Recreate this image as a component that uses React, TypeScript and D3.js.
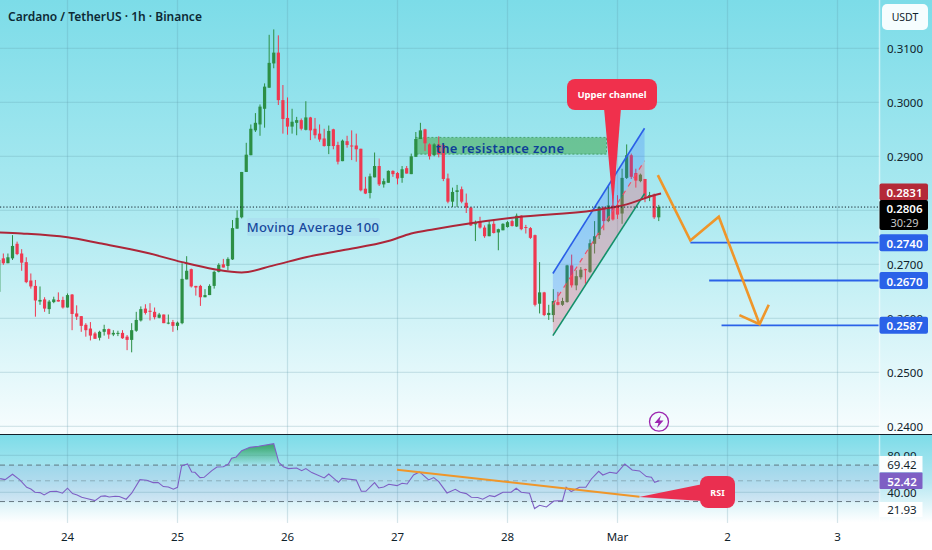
import React from 'react';
import * as d3 from 'd3';

// Prices are in ten-thousandths of USDT; each row is [open, high, low, close], one per hour.
const candlesFeb23 = [
  [2649,2708,2649,2708],[2711,2720,2699,2702],[2702,2720,2702,2713],[2711,2754,2708,2734],[2738,2742,2717,2719],
  [2720,2728,2688,2703],[2704,2713,2665,2667],[2670,2683,2655,2659],[2660,2671,2603,2633],[2631,2659,2625,2634],
  [2635,2639,2612,2618],[2617,2634,2608,2631],[2630,2640,2628,2635],[2634,2648,2631,2631],[2634,2640,2618,2620],
];
const candlesFeb24 = [
  [2620,2646,2620,2643],[2644,2645,2578,2608],[2609,2624,2597,2603],[2604,2604,2575,2586],[2588,2591,2566,2578],
  [2581,2593,2559,2568],[2572,2575,2562,2562],[2564,2577,2559,2575],[2575,2588,2568,2580],[2580,2581,2562,2570],
  [2570,2578,2567,2573],[2572,2577,2567,2573],[2573,2578,2562,2563],[2566,2569,2541,2560],[2560,2591,2537,2578],
  [2577,2612,2575,2597],[2596,2622,2594,2617],[2618,2626,2607,2610],[2614,2628,2596,2612],[2612,2620,2598,2602],
  [2601,2610,2600,2607],[2607,2607,2591,2591],[2591,2607,2589,2592],[2593,2597,2575,2586],
];
const candlesFeb25 = [
  [2586,2594,2578,2592],[2591,2702,2589,2673],[2672,2715,2672,2688],[2691,2692,2657,2659],[2660,2660,2642,2657],
  [2660,2662,2623,2639],[2639,2654,2639,2643],[2643,2663,2643,2660],[2660,2688,2655,2686],[2686,2702,2685,2699],
  [2700,2710,2694,2694],[2697,2713,2689,2710],[2709,2782,2708,2767],[2766,2800,2766,2786],[2787,2871,2785,2871],
  [2871,2925,2871,2903],[2902,2959,2902,2951],[2948,2980,2945,2962],[2959,2996,2938,2992],[2988,3035,2953,3029],
  [3027,3125,3027,3073],[3072,3135,3063,3092],[3092,3124,2995,3004],[3004,3032,2942,2969],
];
const candlesFeb26 = [
  [2971,3009,2940,2955],[2955,2988,2942,2964],[2962,2973,2939,2967],[2967,2970,2948,2951],[2949,3002,2948,2972],
  [2972,2973,2930,2948],[2951,2971,2933,2939],[2942,2959,2927,2931],[2933,2951,2918,2919],[2919,2957,2904,2947],
  [2950,2951,2913,2919],[2921,2927,2885,2890],[2891,2931,2891,2929],[2928,2938,2916,2921],[2920,2948,2893,2919],
  [2920,2942,2890,2913],[2914,2914,2835,2837],[2840,2862,2830,2831],[2832,2868,2822,2863],[2861,2907,2861,2882],
  [2882,2896,2845,2848],[2848,2859,2842,2854],[2851,2874,2851,2873],[2873,2874,2862,2867],
];
const candlesFeb27 = [
  [2869,2871,2848,2859],[2860,2882,2851,2876],[2878,2882,2868,2868],[2867,2905,2867,2900],[2899,2945,2899,2932],
  [2932,2962,2932,2948],[2950,2951,2910,2924],[2922,2924,2894,2900],[2902,2924,2900,2922],[2922,2937,2898,2904],
  [2921,2922,2854,2858],[2859,2868,2813,2816],[2816,2842,2806,2834],[2834,2847,2806,2837],[2839,2844,2813,2816],
  [2814,2831,2795,2805],[2805,2806,2771,2772],[2774,2781,2743,2776],[2780,2788,2766,2768],[2768,2772,2749,2752],
  [2752,2780,2752,2774],[2775,2783,2757,2758],[2759,2766,2726,2765],[2763,2776,2763,2775],
];
const candlesFeb28 = [
  [2769,2780,2768,2778],[2780,2783,2770,2771],[2770,2794,2769,2790],[2790,2791,2763,2765],[2769,2773,2757,2768],
  [2767,2769,2747,2749],[2754,2755,2622,2625],[2627,2704,2609,2648],[2648,2649,2604,2606],[2606,2625,2597,2610],
  [2606,2654,2593,2632],[2630,2649,2624,2625],[2625,2638,2623,2632],[2630,2699,2629,2698],[2698,2718,2657,2661],
  [2661,2689,2652,2678],[2676,2695,2672,2690],[2691,2692,2664,2689],[2686,2746,2684,2739],[2738,2780,2720,2752],
  [2754,2807,2747,2806],[2806,2807,2763,2780],[2780,2846,2778,2809],[2809,2825,2781,2783],
];
const candlesMar1 = [
  [2810,2828,2784,2792],[2794,2877,2775,2860],[2860,2922,2858,2902],[2902,2905,2858,2862],[2869,2877,2842,2855],
  [2854,2868,2852,2866],[2858,2858,2815,2825],[2826,2834,2817,2828],[2829,2831,2784,2787],[2787,2810,2780,2806],
];
const firstCandleHour = -15;

// Hours since 24 Feb 00:00 and price of the 100-period moving average.
const maHours = [-15,-10,0,7,17,25,32,38,45,52,60,70,75,80,88,98,115,122,128,129.5];
const maPrices = [2759,2757,2750,2739,2722,2704,2691,2685,2698,2713,2726,2743,2757,2765,2776,2787,2800,2811,2828,2831];

// RSI pane line.
const rsiHours = [
  -14.7,-13.6,-12,-10.4,-8.9,-8,-7.1,-6,-5.1,-3.8,-2.4,-1.1,0,1.1,2.1,3.1,4.2,6,7.3,8.2,9.1,10.4,11.3,12.8,14,15.8,17.3,18.7,19.8,20.9,22,23.1,24,24.9,26.2,27.1,27.8,28.9,29.8,31.5,32.6,34,35.1,35.8,36.8,38,39.8,41.7,45,46.1,47.1,48.2,50,51.1,52,53.3,56,57,59.1,59.9,63,64.1,65.1,67,67.9,69,70.1,71.9,73,74.1,75.5,76.8,78.8,79.9,81,82.8,84.6,85.7,87,88.1,89.5,90.6,92.1,93.2,95,96.8,97.9,99,100.8,101.9,103,104.5,106.1,108,108.8,109.9,111.7,113.1,114.3,115.9,116.8,118.3,119.8,121.6,123.2,124.8,126.3,127.4,128.1,129.1,
];
const rsiValues = [
  54.8,53.7,59.5,53.4,45.4,43.6,40,39.7,37.2,40.8,41.1,39,44.4,38.6,37.2,34.6,33.2,31,35.7,36.1,35,35.7,35.4,32.5,39,53.7,53,50.5,50.5,46.2,45.8,43.3,45.4,68.5,70.6,62,61.6,55.9,56.2,63.4,67.4,67.7,70.6,76.8,78.2,85,88.6,89.7,92.6,72.4,67.7,65.6,66.3,63.4,65.6,61.3,55.5,59.8,50.8,55.1,53.4,41.1,41.1,50.5,44.7,45.8,48.7,47.2,49.8,49,58.7,62,53.4,55.9,51.5,39.3,43.3,40,38.6,34.6,34.3,32.5,36.4,35.4,40,40,44.4,40,39,22.4,26,24.2,30.6,31,45.4,40.8,45.4,45.4,54.4,62.7,58.7,61.6,60.5,70.6,64.1,63.1,57,56.2,50.8,52.6,
];

const dayTicks = [0,24,48,72,96,120,144,168];
const dayLabels = ['24','25','26','27','28','Mar','2','3'];
const gridPrices = [3100,3000,2900,2800,2700,2600,2500,2400];
const labelledPrices = [3100,3000,2900,2700,2600,2500,2400];
const rsiLevels = [69.42,52.42,30];
const rsiTicks = [80,40];

const zoneHours = [75.9,117.6];
const zonePrices = [2935,2904];
const channelHours = [105.9,125.9];
const channelUpper = [2683,2952];
const channelLower = [2568,2831];
const zigzagHours = [128.8,135.9,142.1,151];
const zigzagPrices = [2865,2744,2788,2589];
const arrowHours = [146.6,151,153];
const arrowPrices = [2606,2589,2625];
const targetPrices = [2740,2670,2587];
const targetStartHours = [135.9,140,142.7];
const rsiTrendHours = [71.9,124.8];
const rsiTrendValues = [64.4,35.2];

const W = 932, H = 550, PLOT_R = 879.5;
const FONT = '"Noto Sans", sans-serif';
const GREEN = '#2c8f45', RED = '#ef3850', BLUE = '#2a62e8', ORANGE = '#ef962a', PURPLE = '#7e5fc4';

const x = d3.scaleLinear().domain([0, 24]).range([67.5, 177.5]);
const y = d3.scaleLinear().domain([3100, 2400]).range([48.3, 426.3]);
const r = d3.scaleLinear().domain([80, 40]).range([455.3, 492.3]);

const candles = [candlesFeb23, candlesFeb24, candlesFeb25, candlesFeb26, candlesFeb27, candlesFeb28, candlesMar1].flat();
const fmtPrice = (p: number) => (p / 10000).toFixed(4);

const maLine = d3.line<number>().x((_, i) => x(maHours[i])).y((d) => y(d)).curve(d3.curveMonotoneX)(maPrices) as string;
const rsiLine = d3.line<number>().x((_, i) => x(rsiHours[i])).y((d) => r(d))(rsiValues) as string;
const rsiArea = d3.area<number>().x((_, i) => x(rsiHours[i])).y0(r(69.42)).y1((d) => r(d))(rsiValues) as string;
const pts = (hs: number[], ps: number[], sy: (v: number) => number) =>
  hs.map((h, i) => `${x(h)},${sy(ps[i])}`).join(' ');

function PriceTag({ price, color, text = 'white' }: { price: number; color: string; text?: string }) {
  const cy = y(price);
  return (
    <g>
      <rect x={879.5} y={cy - 8.5} width={48.5} height={17} rx={2} fill={color} />
      <text x={904.5} y={cy + 0.5} textAnchor="middle" dominantBaseline="central" fontSize={11.5} fontWeight={600} fontFamily={FONT} fill={text}>{fmtPrice(price)}</text>
    </g>
  );
}

export default function App() {
  const midStart = (channelUpper[0] + channelLower[0]) / 2;
  const midEnd = (channelUpper[1] + channelLower[1]) / 2;
  return (
    <svg width={W} height={H} viewBox={`0 0 ${W} ${H}`} style={{ position: 'absolute', left: 0, top: 0, display: 'block' }}>
      <defs>
        <linearGradient id="bgMain" x1="0" x2="0" y1="0" y2="1">
          <stop offset="0" stopColor="#7cdce8" />
          <stop offset="0.5" stopColor="#aeeaf1" />
          <stop offset="1" stopColor="#f8fdfe" />
        </linearGradient>
        <linearGradient id="bgRsi" x1="0" x2="0" y1="0" y2="1">
          <stop offset="0" stopColor="#7cdce8" />
          <stop offset="0.55" stopColor="#b8e8f2" />
          <stop offset="1" stopColor="#ffffff" />
        </linearGradient>
        <linearGradient id="obFill" gradientUnits="userSpaceOnUse" x1="0" x2="0" y1={r(90)} y2={r(69.42)}>
          <stop offset="0" stopColor="#2e9e56" stopOpacity="0.8" />
          <stop offset="1" stopColor="#2e9e56" stopOpacity="0" />
        </linearGradient>
        <clipPath id="plotClip"><rect x={0} y={0} width={PLOT_R} height={434} /></clipPath>
        <clipPath id="obClip"><rect x={0} y={r(95)} width={PLOT_R} height={r(69.42) - r(95)} /></clipPath>
      </defs>

      <rect x={0} y={0} width={W} height={H} fill="#ffffff" />
      <rect x={0} y={0} width={W} height={434} fill="url(#bgMain)" />
      <rect x={0} y={434.5} width={W} height={88} fill="url(#bgRsi)" />

      {/* Grid */}
      {dayTicks.map((t) => (
        <g key={t} stroke="#5c98a6" strokeOpacity={0.24} strokeWidth={1.2}>
          <line x1={x(t)} x2={x(t)} y1={0} y2={434} />
          <line x1={x(t)} x2={x(t)} y1={435} y2={523} />
        </g>
      ))}
      {gridPrices.map((p) => (
        <line key={p} x1={0} x2={PLOT_R} y1={y(p)} y2={y(p)} stroke="#5c98a6" strokeOpacity={0.28} />
      ))}
      <line x1={PLOT_R} x2={PLOT_R} y1={0} y2={523} stroke="#ffffff" strokeOpacity={0.55} strokeWidth={1.5} />

      {/* Price pane */}
      <g clipPath="url(#plotClip)">
        <polygon points={pts([...zoneHours, ...zoneHours.slice().reverse()], [zonePrices[0], zonePrices[0], zonePrices[1], zonePrices[1]], y)} fill="#4caf5f" fillOpacity={0.62} stroke="#2f8f50" strokeOpacity={0.7} strokeDasharray="2 2" />

        {candles.map((c, i) => {
          const [o, h, l, cl] = c;
          const hour = firstCandleHour + i;
          const col = cl >= o ? GREEN : RED;
          const top = y(Math.max(o, cl));
          const bottom = y(Math.min(o, cl));
          return (
            <g key={i}>
              <line x1={x(hour)} x2={x(hour)} y1={y(h)} y2={y(l)} stroke={col} strokeWidth={1} />
              <rect x={x(hour) - 1.6} y={top} width={3.2} height={Math.max(bottom - top, 1)} fill={col} />
            </g>
          );
        })}

        {/* Channel */}
        <polygon points={`${x(channelHours[0])},${y(channelUpper[0])} ${x(channelHours[1])},${y(channelUpper[1])} ${x(channelHours[1])},${y(midEnd)} ${x(channelHours[0])},${y(midStart)}`} fill="#2962ff" fillOpacity={0.22} />
        <polygon points={`${x(channelHours[0])},${y(midStart)} ${x(channelHours[1])},${y(midEnd)} ${x(channelHours[1])},${y(channelLower[1])} ${x(channelHours[0])},${y(channelLower[0])}`} fill="#f5506a" fillOpacity={0.3} />
        <line x1={x(channelHours[0])} x2={x(channelHours[1])} y1={y(midStart)} y2={y(midEnd)} stroke="#f0506a" strokeWidth={1.2} strokeDasharray="5 5" />
        <line x1={x(channelHours[0])} x2={x(channelHours[1])} y1={y(channelUpper[0])} y2={y(channelUpper[1])} stroke="#2a5fe8" strokeWidth={1.6} />
        <line x1={x(channelHours[0])} x2={x(channelHours[1])} y1={y(channelLower[0])} y2={y(channelLower[1])} stroke="#13906a" strokeWidth={1.6} />

        {/* MA */}
        <path d={maLine} fill="none" stroke="#ad2639" strokeWidth={2} />

        {/* Last price */}
        <line x1={0} x2={PLOT_R} y1={y(2806)} y2={y(2806)} stroke="#10202a" strokeWidth={1} strokeDasharray="1.2 2" />

        {/* Targets */}
        {targetPrices.map((p, i) => (
          <line key={p} x1={x(targetStartHours[i])} x2={PLOT_R - 1} y1={y(p)} y2={y(p)} stroke={BLUE} strokeWidth={1.8} />
        ))}

        {/* Path */}
        <polyline points={pts(zigzagHours, zigzagPrices, y)} fill="none" stroke={ORANGE} strokeWidth={2.6} strokeLinejoin="miter" />
        <polyline points={pts(arrowHours, arrowPrices, y)} fill="none" stroke={ORANGE} strokeWidth={2.6} />

        {/* Labels */}
        <rect x={247} y={218} width={133} height={18} rx={2} fill="#a9d8ee" fillOpacity={0.55} />
        <text x={313} y={227} textAnchor="middle" dominantBaseline="central" fontSize={13} fontWeight={500} letterSpacing={0.35} fontFamily={FONT} fill="#17479c">Moving Average 100</text>
        <text x={500} y={148} textAnchor="middle" dominantBaseline="central" fontSize={13} fontWeight={600} letterSpacing={0.3} fontFamily={FONT} fill="#0f3f98">the resistance zone</text>

        {/* Upper channel callout */}
        <path d="M604,108 L621,108 L613,207 Z" fill="#f0304c" />
        <rect x={567} y={79} width={90} height={31} rx={8} fill="#f0304c" />
        <text x={612} y={94.5} textAnchor="middle" dominantBaseline="central" fontSize={9.5} fontWeight={700} fontFamily={FONT} fill="#ffffff">Upper channel</text>
      </g>

      {/* Lightning marker */}
      <circle cx={659} cy={421.7} r={9.5} fill="none" stroke="#9c27b0" strokeWidth={1.3} />
      <path d="M661,415.5 L654.5,423 L658.5,423 L657,428 L663.5,420.5 L659.5,420.5 Z" fill="#9c27b0" />

      {/* Price axis */}
      {labelledPrices.map((p) => (
        <text key={p} x={905} y={y(p) + 0.5} textAnchor="middle" dominantBaseline="central" fontSize={11.5} fontFamily={FONT} fill="#10222b">{fmtPrice(p)}</text>
      ))}
      <rect x={882} y={4} width={46} height={26} rx={5} fill="#ffffff" fillOpacity={0.92} />
      <text x={905} y={17} textAnchor="middle" dominantBaseline="central" fontSize={10.5} fontFamily={FONT} fill="#10222b">USDT</text>

      <rect x={879.5} y={183.5} width={48.5} height={17} rx={2} fill="#b42a38" />
      <text x={904.5} y={192.5} textAnchor="middle" dominantBaseline="central" fontSize={11.5} fontWeight={600} fontFamily={FONT} fill="#ffffff">0.2831</text>
      <rect x={879.5} y={200} width={48.5} height={30} rx={2} fill="#000000" />
      <text x={904.5} y={208} textAnchor="middle" dominantBaseline="central" fontSize={11.5} fontWeight={600} fontFamily={FONT} fill="#ffffff">0.2806</text>
      <text x={904.5} y={222} textAnchor="middle" dominantBaseline="central" fontSize={11} fontFamily={FONT} fill="#c8c8c8">30:29</text>
      {targetPrices.map((p) => <PriceTag key={p} price={p} color={BLUE} />)}

      <line x1={0} x2={W} y1={434.5} y2={434.5} stroke="#14202a" strokeWidth={1.2} />

      {/* RSI pane */}
      <rect x={0} y={r(69.42)} width={PLOT_R} height={r(30) - r(69.42)} fill={PURPLE} fillOpacity={0.09} />
      {rsiTicks.map((v) => (
        <line key={v} x1={0} x2={PLOT_R} y1={r(v)} y2={r(v)} stroke="#5c98a6" strokeOpacity={0.3} />
      ))}
      {rsiLevels.map((v) => (
        <line key={v} x1={0} x2={PLOT_R} y1={r(v)} y2={r(v)} stroke="#53656f" strokeOpacity={v === 52.42 ? 0.4 : 0.85} strokeDasharray="5 4" />
      ))}
      <path d={rsiArea} fill="url(#obFill)" clipPath="url(#obClip)" />
      <path d={rsiLine} fill="none" stroke={PURPLE} strokeWidth={1.1} />
      <polyline points={pts(rsiTrendHours, rsiTrendValues, r)} fill="none" stroke={ORANGE} strokeWidth={2} />

      <path d="M639,497 L703,484 L703,501 Z" fill="#ea2f50" />
      <rect x={700} y={476} width={35} height={32} rx={8} fill="#ea2f50" />
      <text x={717.5} y={492} textAnchor="middle" dominantBaseline="central" fontSize={9} fontWeight={700} fontFamily={FONT} fill="#ffffff">RSI</text>

      {rsiTicks.map((v) => (
        <text key={v} x={902} y={r(v) + 0.5} textAnchor="middle" dominantBaseline="central" fontSize={11.5} fontFamily={FONT} fill="#10222b">{v.toFixed(2)}</text>
      ))}
      <rect x={879.5} y={456} width={43} height={16} fill="#ffffff" fillOpacity={0.95} />
      <text x={902} y={464.5} textAnchor="middle" dominantBaseline="central" fontSize={11.5} fontFamily={FONT} fill="#10222b">69.42</text>
      <rect x={879.5} y={472.5} width={43} height={16.5} rx={1} fill={PURPLE} />
      <text x={902} y={481} textAnchor="middle" dominantBaseline="central" fontSize={11.5} fontWeight={600} fontFamily={FONT} fill="#ffffff">52.42</text>
      <rect x={879.5} y={502} width={43} height={15} fill="#ffffff" fillOpacity={0.95} />
      <text x={902} y={509.5} textAnchor="middle" dominantBaseline="central" fontSize={11.5} fontFamily={FONT} fill="#10222b">21.93</text>

      {/* Time axis */}
      {dayTicks.map((t, i) => (
        <text key={t} x={x(t)} y={536} textAnchor="middle" dominantBaseline="central" fontSize={11.5} fontFamily={FONT} fill="#10222b">{dayLabels[i]}</text>
      ))}

      {/* Title */}
      <text x={8} y={16.5} dominantBaseline="central" fontSize={12} fontWeight={600} fontFamily={FONT} fill="#0d2a35">Cardano / TetherUS · 1h · Binance</text>
    </svg>
  );
}
